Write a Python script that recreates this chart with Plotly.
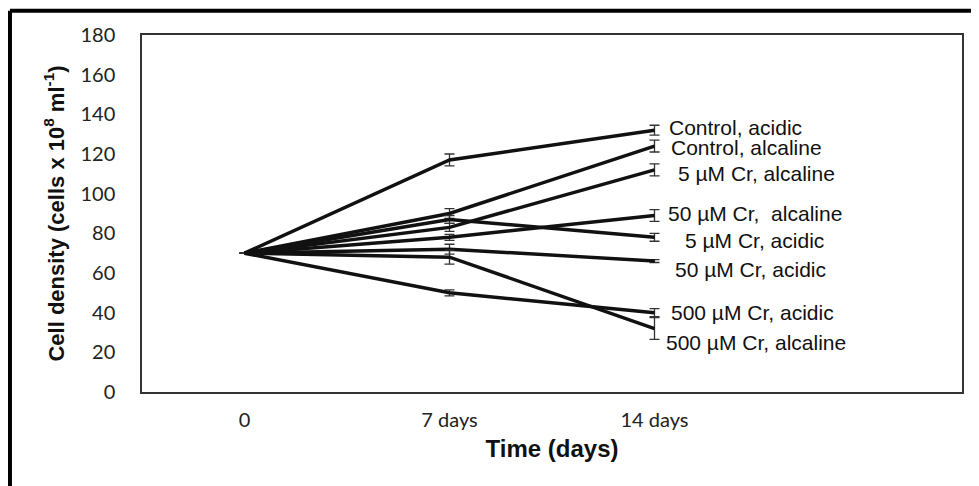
import plotly.graph_objects as go

# ---- data ----
time_idx = [0, 1, 2]
time_labels = ["0", "7 days", "14 days"]

series_names = [
    "Control, acidic", "Control, alcaline", "5 µM Cr, alcaline",
    "50 µM Cr,\u00a0 alcaline", "5 µM Cr, acidic", "50 µM Cr, acidic",
    "500 µM Cr, acidic", "500 µM Cr, alcaline",
]
control_acidic = [70, 117, 132]
control_alcaline = [70, 90, 124]
cr5_alcaline = [70, 83, 112]
cr50_alcaline = [70, 78, 89]
cr5_acidic = [70, 87, 78]
cr50_acidic = [70, 72, 66]
cr500_acidic = [70, 50, 40]
cr500_alcaline = [70, 68, 32]

err_control_acidic = [0, 3, 2.5]
err_control_alcaline = [0, 2.5, 3]
err_cr5_alcaline = [0, 2, 3]
err_cr50_alcaline = [0, 1.5, 3]
err_cr5_acidic = [0, 2, 2]
err_cr50_acidic = [0, 2.5, 0.7]
err_cr500_acidic = [0, 1.5, 2]
err_cr500_alcaline = [0, 3.5, 5.5]

# label placement (y value in data units, horizontal pixel offset from 14 days)
label_y = [133.5, 123.4, 110.2, 90, 76.3, 61.7, 40, 24.8]
label_shift = [12, 14, 21, 11, 28, 18, 14, 9]

values = [control_acidic, control_alcaline, cr5_alcaline, cr50_alcaline,
          cr5_acidic, cr50_acidic, cr500_acidic, cr500_alcaline]
errors = [err_control_acidic, err_control_alcaline, err_cr5_alcaline,
          err_cr50_alcaline, err_cr5_acidic, err_cr50_acidic,
          err_cr500_acidic, err_cr500_alcaline]

fig = go.Figure()
for name, v, e in zip(series_names, values, errors):
    fig.add_trace(go.Scatter(
        x=time_idx, y=v, name=name, mode="lines",
        line=dict(color="#111111", width=3.5),
        error_y=dict(type="data", array=e, visible=True,
                     color="#333333", thickness=1.3, width=5),
        showlegend=False,
    ))

for name, ly, sh in zip(series_names, label_y, label_shift):
    fig.add_annotation(
        x=time_idx[-1], y=ly, xref="x", yref="y", text=name,
        showarrow=False, xanchor="left", yanchor="middle", xshift=sh,
        font=dict(family="Liberation Sans, Arial", size=21, color="#111111"),
    )

# outer black frame (top and left edges)
fig.add_shape(type="line", xref="paper", yref="paper",
              x0=-0.161, x1=1.03, y0=1.068, y1=1.068,
              line=dict(color="black", width=4))
fig.add_shape(type="line", xref="paper", yref="paper",
              x0=-0.161, x1=-0.161, y0=1.068, y1=-0.3,
              line=dict(color="black", width=4))

fig.update_layout(
    width=971, height=478,
    margin=dict(l=134, r=17, t=27, b=94),
    paper_bgcolor="white", plot_bgcolor="white",
    xaxis=dict(
        range=[-0.5, 3.5], tickmode="array", tickvals=time_idx,
        ticktext=time_labels, showgrid=False, zeroline=False,
        showline=True, mirror=True, linecolor="#333333", linewidth=1.5,
        ticks="", ticklabelstandoff=9,
        tickfont=dict(family="Lato", size=20, color="#222222"),
        title=dict(text="<b>Time (days)</b>", standoff=10,
                   font=dict(family="Liberation Sans, Arial", size=24, color="#111111")),
    ),
    yaxis=dict(
        range=[0, 180], dtick=20, showgrid=False, zeroline=False,
        showline=True, mirror=True, linecolor="#333333", linewidth=1.5,
        ticks="", ticklabelstandoff=21,
        tickfont=dict(family="Lato", size=20, color="#222222"),
        title=dict(text="<b>Cell density (cells x 10<sup>8</sup> ml<sup>-1</sup>)</b>",
                   standoff=10,
                   font=dict(family="Liberation Sans, Arial", size=22, color="#111111")),
    ),
)

fig.write_html("out.html")
